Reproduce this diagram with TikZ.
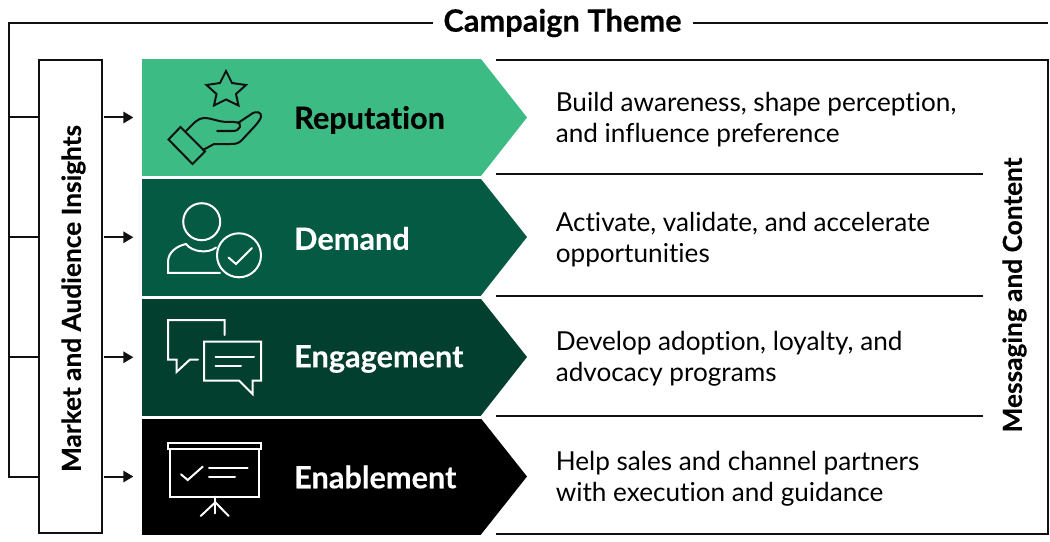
\documentclass[tikz,border=0pt]{standalone}
\usepackage{fontspec}
\setmainfont{Lato}[Ligatures=NoCommon,BoldFeatures={FakeBold=0.25}]
\usetikzlibrary{arrows.meta,calc}
\definecolor{cRep}{HTML}{3DBB84}
\definecolor{cDem}{HTML}{045A42}
\definecolor{cEng}{HTML}{033F2E}
\definecolor{cLine}{HTML}{111111}
\tikzset{
  ln/.style={draw=cLine,line width=1.5pt},
  arr/.style={ln,-{Triangle[length=7.5pt,width=8.5pt]},shorten <=1.5pt,shorten >=6.5pt},
  band/.style={rectangle,minimum width=254.25pt,minimum height=#1,inner sep=0pt,outer sep=0pt,anchor=north west},
  lbl/.style={anchor=west,inner sep=0pt,font=\fontsize{23pt}{26pt}\bfseries},
  desc/.style={anchor=west,inner sep=0pt,align=left,font=\fontsize{19.6pt}{23.2pt}\selectfont},
  side/.style={inner sep=0pt,rotate=90,font=\fontsize{19.7pt}{22pt}\bfseries},
  ico/.style={line width=1.5pt,line join=miter,line cap=round},
}
\newcommand{\chev}[5]{% name, color, top y, bottom y, mid y
  \node[band=#4*0.75pt-#3*0.75pt,fill=#2] (#1) at (142,#3) {};
  \fill[#2] (481,#3) -- (527,#5) -- (481,#4) -- cycle;
}
\begin{document}
\begin{tikzpicture}[x=0.75pt,y=-0.75pt]
\useasboundingbox (0,0) rectangle (1050,542);
\fill[white] (0,0) rectangle (1050,542);

% bands
\chev{rep}{cRep}{59}{176}{117.5}
\chev{dem}{cDem}{179}{295.5}{237}
\chev{eng}{cEng}{299}{415.5}{357}
\chev{ena}{black}{418.5}{534.5}{476.5}

% theme
\node[inner sep=0pt,font=\fontsize{23.1pt}{26pt}\bfseries] (theme) at (562.5,23) {Campaign Theme};
\coordinate (railtop) at (8.5,23.5);
\coordinate (themeend) at (1048,23.5);

% insights box
\node[draw=cLine,line width=1.5pt,fill=white,minimum width=47.25pt,minimum height=354.75pt,inner sep=0pt,outer sep=0pt] (ins) at (70.25,296.5) {};
\node[side] (instext) at (73.5,298.5) {Market and Audience Insights};

\draw[ln] ([xshift=-8pt]theme.west |- railtop) -- (railtop) -- (railtop |- ena.west) -- (ins.west |- ena.west);
\draw[ln] ([xshift=8pt]theme.east |- themeend) -- (themeend);
\foreach \n in {rep,dem,eng}{
  \draw[ln] (railtop |- \n.west) -- (ins.west |- \n.west);
}
\foreach \n in {rep,dem,eng,ena}{
  \draw[arr] (ins.east |- \n.west) -- (\n.west);
}

% content frame
\coordinate (ct) at (496,60);
\coordinate (cb) at (496,534);
\coordinate (cr) at (1048,60);
\draw[ln] (ct) -- (cr) -- (cr |- cb) -- (cb);
\coordinate (sepend) at (983,0);
\foreach \yy in {174,295.5,415.5}{
  \draw[ln] (496,\yy) -- (sepend |- 0,\yy);
}
\node[side] (msg) at (1014.5,295) {Messaging and Content};

% labels
\node[lbl] (l1) at (294,120) {Reputation};
\node[lbl,white] (l2) at (294,238.5) {Demand};
\node[lbl,white] (l3) at (294,359) {Engagement};
\node[lbl,white] (l4) at (294,477) {Enablement};

\node[desc] (d1) at (555.5,119.5) {Build awareness, shape perception,\\and influence preference};
\node[desc] (d2) at (555.5,239.5) {Activate, validate, and accelerate\\opportunities};
\node[desc] (d3) at (555.5,358.5) {Develop adoption, loyalty, and\\advocacy programs};
\node[desc] (d4) at (555.5,478.5) {Help sales and channel partners\\with execution and guidance};

% icon: star and hand
\draw[ico,cLine,line join=miter] (226,71) -- (232,83) -- (246,85) -- (236,94) -- (238.5,105.5) -- (226,99.5) -- (214,105.5) -- (216.5,94) -- (206.5,85) -- (220,83) -- cycle;
\draw[ico,cLine] (168.5,139.5) -- (180.5,127) -- (205,151.5) -- (192.5,164) -- cycle;
\draw[ico,cLine] (186,131) .. controls (194,123) and (198,118) .. (204,118) .. controls (212,118) and (218,122) .. (228,122) -- (234,122) .. controls (240,122) and (241,125) .. (240,127) .. controls (239,130) and (236,131) .. (232,131) -- (217,131);
\draw[ico,cLine] (238,123) -- (250,115) .. controls (256,110) and (262,112) .. (261,117) .. controls (260,122) and (248,133) .. (242,140) .. controls (238,144) and (235,144) .. (230,144) -- (214,144) -- (203,150);

% icon: person with check
\draw[ico,white] (201.7,221.7) circle[radius=18.5];
\draw[ico,white] (239,255.3) circle[radius=22];
\draw[ico,white] (228.5,257.5) -- (236,264) -- (252,248);
\draw[ico,white] (220,272.8) -- (168,272.8) -- (168,262) .. controls (168,252) and (177,246) .. (186,244) .. controls (192,252) and (208,254) .. (216,247.5);

% icon: speech bubbles
\draw[ico,white] (224.5,335) -- (224.5,320) -- (168,320) -- (168,359.5) -- (176.5,359.5) -- (176.5,372) -- (190,359.5) -- (198,359.5);
\draw[ico,white] (204,341.5) -- (261,341.5) -- (261,380.5) -- (252.5,380.5) -- (252.5,394) -- (239,380.5) -- (204,380.5) -- cycle;
\draw[ico,white] (215.5,357) -- (254,357);
\draw[ico,white] (215.5,365.5) -- (241,365.5);

% icon: presentation board
\draw[ico,white] (167.7,442.7) rectangle (261,449.3);
\draw[ico,white] (170,449.3) -- (170,496.7) -- (259.3,496.7) -- (259.3,449.3);
\draw[ico,white] (181,474.3) -- (187.7,480) -- (202.7,466.7);
\draw[ico,white] (209,468.3) -- (247.7,468.3);
\draw[ico,white] (209,477.3) -- (235,477.3);
\draw[ico,white] (215.3,496.7) -- (215.3,513.3);
\draw[ico,white] (200.7,516) -- (215.3,502.3) -- (228.7,516);
\end{tikzpicture}
\end{document}
